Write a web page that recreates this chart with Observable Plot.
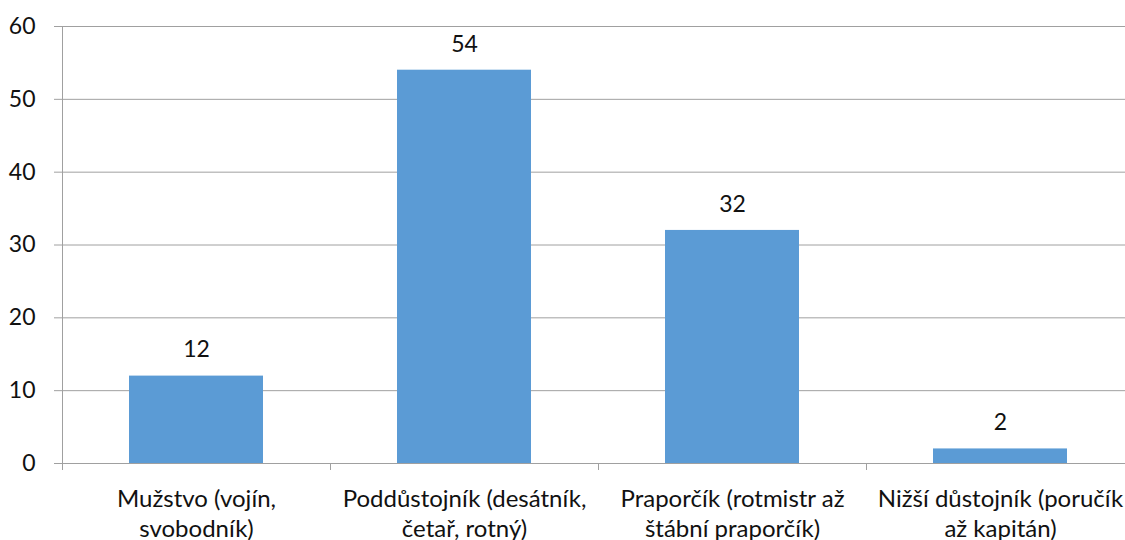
<!DOCTYPE html>
<html><head><meta charset="utf-8">
<script src="https://cdn.jsdelivr.net/npm/d3@7"></script>
<script src="https://cdn.jsdelivr.net/npm/@observablehq/plot@0.6"></script>
<style>html,body{margin:0;padding:0;background:#fff;overflow:hidden}</style>
</head><body><div id="chart"></div>
<script>
const categories = ["Mužstvo (vojín,\nsvobodník)", "Poddůstojník (desátník,\nčetař, rotný)", "Praporčík (rotmistr až\nštábní praporčík)", "Nižší důstojník (poručík\naž kapitán)"];
const values = [12, 54, 32, 2];
const yTicks = [0, 10, 20, 30, 40, 50, 60];

const data = categories.map((c, i) => ({i, c, v: values[i]}));
const gridColor = "#a0a0a0";

const chart = Plot.plot({
  width: 1125, height: 540,
  marginLeft: 62, marginTop: 26, marginBottom: 77, marginRight: 0,
  style: {fontFamily: "Lato, sans-serif", fontSize: "23px", color: "#111", background: "#fff", overflow: "visible"},
  x: {domain: [0, 4], range: [62, 1134]},
  y: {domain: [0, 60]},
  marks: [
    Plot.ruleY(yTicks, {stroke: gridColor, strokeWidth: 1}),
    Plot.ruleX([0], {stroke: gridColor}),
    Plot.axisY({ticks: yTicks, tickSize: 8, tickPadding: 19, stroke: gridColor, label: null, fontSize: 23}),
    Plot.axisX({ticks: [0, 1, 2, 3, 4], tickSize: 7, tickFormat: () => "", stroke: gridColor, label: null}),
    Plot.axisX({ticks: [0.5, 1.5, 2.5, 3.5], tickSize: 0, tickPadding: 23, tickFormat: d => categories[Math.floor(d)], lineHeight: 1.22, label: null, fontSize: 24}),
    Plot.rectY(data, {x1: d => d.i + 0.25, x2: d => d.i + 0.75, y: "v", fill: "#5b9bd5"}),
    Plot.text(data, {x: d => d.i + 0.5, y: "v", text: d => String(d.v), dy: -26, fontSize: 23, fill: "#111"})
  ]
});
document.getElementById("chart").append(chart);
</script>
</body></html>
